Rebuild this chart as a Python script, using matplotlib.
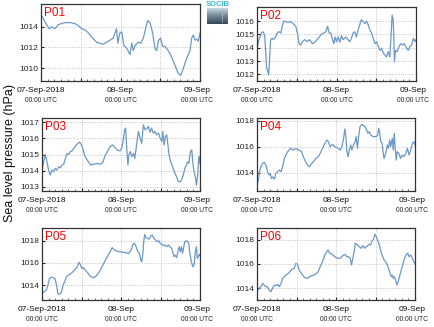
import numpy as np
import matplotlib
matplotlib.use("Agg")
import matplotlib.pyplot as plt
from matplotlib.colors import LinearSegmentedColormap

plt.rcParams['font.family'] = ['Liberation Sans', 'DejaVu Sans']

# time in hours since 07-Sep-2018 00:00 UTC, pressure in hPa
p01_t = [0, 0.7, 1.7, 2.5, 3.2, 4.2, 5.2, 6.2, 7.2, 8.8, 10.3, 11.3, 12.3, 13.3, 14.3,
         15.3, 16.8, 17.8, 18.8, 19.8, 20.8, 21.8, 22.8, 23.2, 23.8, 24.4, 25.0, 25.9, 26.9, 27.4,
         27.9, 28.4, 29.4, 30.1, 30.9, 31.7, 32.2, 32.9, 33.7, 34.4, 34.9, 35.5, 36.1, 36.7, 37.4,
         38.4, 39.4, 40.4, 41.4, 42.2, 42.8, 43.5, 44.2, 45.0, 45.5, 46.0, 46.5, 47.0, 47.5, 48.0]
p01_p = [1015.1, 1014.8, 1014.2, 1013.8, 1014.0, 1013.8, 1014.2, 1014.3, 1014.4, 1014.4, 1014.3, 1014.1, 1013.8, 1013.7, 1013.4,
         1013.0, 1012.5, 1012.4, 1012.3, 1012.5, 1012.7, 1012.9, 1013.8, 1012.4, 1013.4, 1013.5, 1012.2, 1011.9, 1011.3, 1012.4,
         1011.7, 1012.2, 1012.5, 1012.4, 1012.9, 1014.0, 1014.6, 1014.4, 1013.4, 1011.9, 1011.7, 1012.7, 1012.9, 1012.1, 1012.1,
         1011.7, 1011.1, 1010.3, 1009.5, 1009.3, 1009.8, 1010.5, 1011.1, 1011.7, 1012.9, 1013.2, 1012.7, 1012.8, 1012.6, 1013.4]

p02_t = [0, 0.6, 1.3, 1.8, 2.3, 2.6, 2.9, 3.2, 3.5, 3.8, 4.1, 4.6, 5.0, 5.6, 6.1,
         6.6, 7.2, 7.7, 8.1, 8.7, 9.4, 10.1, 10.9, 11.7, 12.2, 12.7, 13.2, 13.7, 14.4, 15.1,
         15.9, 16.7, 17.4, 18.1, 18.8, 19.4, 20.2, 20.8, 21.3, 21.8, 22.3, 22.8, 23.2, 23.6, 24.0,
         24.5, 25.0, 25.5, 26.0, 26.8, 27.5, 28.0, 28.5, 29.0, 29.5, 30.0, 30.5, 31.0, 31.5, 32.1,
         32.6, 33.1, 33.6, 34.1, 34.6, 35.1, 35.6, 36.1, 36.6, 37.1, 37.6, 38.1, 38.6, 39.1, 39.6,
         40.1, 40.5, 40.8, 41.1, 41.3, 41.5, 41.8, 42.3, 42.9, 43.4, 43.9, 44.4, 45.2, 45.7, 46.2,
         46.7, 47.2, 47.7, 48.0]
p02_p = [1013.95, 1014.6, 1015.1, 1015.2, 1014.95, 1013.8, 1012.45, 1012.3, 1011.95, 1013.1, 1014.6, 1014.7, 1014.6, 1014.8, 1015.1,
         1015.2, 1015.1, 1015.7, 1016.0, 1015.95, 1015.9, 1015.95, 1015.8, 1015.6, 1015.1, 1014.3, 1014.2, 1014.45, 1014.6, 1014.45,
         1014.6, 1014.3, 1014.4, 1014.6, 1014.8, 1015.0, 1015.1, 1015.2, 1015.6, 1015.1, 1015.1, 1014.6, 1014.3, 1014.8, 1014.45,
         1014.8, 1014.4, 1014.9, 1014.6, 1014.8, 1014.6, 1014.45, 1014.7, 1015.1, 1015.2, 1014.8, 1015.3, 1015.7, 1016.1, 1015.95,
         1015.8, 1016.0, 1015.7, 1015.3, 1015.1, 1014.7, 1014.3, 1014.45, 1014.1, 1013.8, 1013.95, 1013.6, 1013.45, 1013.3, 1013.7,
         1013.3, 1015.1, 1016.45, 1016.1, 1014.8, 1012.95, 1013.8, 1013.7, 1014.1, 1014.3, 1014.2, 1014.3, 1013.95, 1013.8, 1014.1,
         1014.2, 1014.7, 1014.45, 1014.6]

p03_t = [0, 0.5, 1.0, 1.5, 2.0, 2.5, 3.0, 3.5, 4.0, 4.5, 5.1, 5.6, 6.1, 6.6, 7.1,
         7.6, 8.1, 8.6, 9.1, 9.8, 10.6, 11.4, 11.9, 12.4, 12.9, 13.4, 14.1, 14.8, 15.7, 16.7,
         17.7, 18.5, 19.2, 19.9, 20.7, 21.5, 22.2, 22.9, 23.7, 24.2, 24.7, 25.1, 25.4, 25.8, 26.1,
         26.4, 26.8, 27.3, 27.8, 28.2, 28.6, 29.0, 29.3, 29.8, 30.3, 30.8, 31.3, 31.8, 32.3, 32.8,
         33.3, 33.8, 34.3, 34.8, 35.4, 35.9, 36.4, 36.7, 37.1, 37.5, 37.9, 38.2, 38.6, 39.1, 39.7,
         40.2, 40.9, 41.4, 41.9, 42.4, 42.9, 43.4, 43.9, 44.2, 44.6, 45.1, 45.5, 45.8, 46.2, 46.6,
         46.9, 47.3, 47.6, 47.8, 48.0]
p03_p = [1014.04, 1014.55, 1015.0, 1014.55, 1014.04, 1013.73, 1014.04, 1013.93, 1014.14, 1014.04, 1014.25, 1014.18, 1014.35, 1014.4, 1014.76,
         1015.07, 1015.0, 1015.18, 1015.22, 1015.42, 1015.63, 1015.76, 1015.63, 1015.38, 1014.97, 1014.76, 1014.55, 1014.35, 1014.4, 1014.45,
         1014.4, 1014.51, 1014.97, 1015.18, 1015.49, 1015.59, 1015.42, 1015.28, 1015.22, 1015.38, 1015.9, 1016.52, 1016.63, 1015.18, 1014.35,
         1014.97, 1015.18, 1014.87, 1015.07, 1014.76, 1015.38, 1016.0, 1016.42, 1016.0, 1015.69, 1016.83, 1016.52, 1016.59, 1016.73, 1016.38,
         1016.63, 1016.32, 1016.42, 1016.21, 1016.32, 1016.0, 1015.8, 1016.42, 1015.59, 1016.11, 1016.21, 1015.69, 1014.97, 1014.55, 1014.24,
         1013.93, 1013.62, 1013.35, 1013.31, 1013.41, 1013.73, 1014.14, 1014.35, 1014.55, 1014.45, 1015.18, 1015.28, 1014.55, 1013.93, 1013.62,
         1013.1, 1013.73, 1014.76, 1014.87, 1014.45]

p04_t = [0, 0.4, 0.8, 1.2, 1.7, 2.2, 2.7, 3.2, 3.7, 4.0, 4.4, 4.8, 5.3, 5.7, 6.3,
         6.8, 7.3, 7.8, 8.3, 8.8, 9.3, 9.8, 10.3, 10.8, 11.3, 12.1, 12.8, 13.5, 14.1, 14.7,
         15.4, 15.9, 16.4, 17.1, 17.9, 18.6, 19.2, 19.9, 20.6, 21.2, 21.7, 22.2, 22.9, 23.6, 24.4,
         25.3, 25.8, 26.3, 26.7, 27.0, 27.3, 27.7, 28.0, 28.5, 28.8, 29.3, 29.8, 30.1, 30.5, 30.8,
         31.3, 31.8, 32.3, 32.8, 33.3, 33.7, 34.1, 34.7, 35.4, 36.1, 36.6, 37.0, 37.3, 37.6, 38.0,
         38.3, 38.6, 39.1, 39.6, 39.9, 40.3, 40.6, 41.1, 41.4, 41.7, 42.0, 42.3, 42.6, 43.1, 43.6,
         44.1, 44.6, 45.2, 45.7, 46.2, 46.7, 47.2, 47.7, 48.0]
p04_p = [1013.05, 1013.44, 1014.08, 1014.46, 1014.72, 1014.79, 1014.59, 1014.08, 1013.82, 1013.95, 1013.56, 1013.69, 1013.51, 1013.95, 1014.08,
         1014.21, 1014.08, 1014.46, 1015.1, 1015.36, 1015.62, 1015.74, 1015.87, 1015.74, 1015.82, 1015.82, 1015.74, 1015.62, 1015.23, 1014.85,
         1014.59, 1014.46, 1014.64, 1014.85, 1015.1, 1015.23, 1015.49, 1015.87, 1016.26, 1016.51, 1016.38, 1016.0, 1016.18, 1016.0, 1015.92,
         1015.74, 1016.0, 1016.64, 1017.36, 1016.77, 1015.62, 1015.23, 1015.74, 1016.13, 1015.74, 1016.13, 1016.38, 1016.77, 1015.87, 1016.64,
         1017.54, 1017.72, 1017.62, 1017.54, 1017.28, 1017.03, 1017.15, 1016.85, 1016.77, 1016.77, 1016.85, 1017.41, 1017.03, 1016.38, 1016.26,
         1015.62, 1015.1, 1015.49, 1016.13, 1015.87, 1016.51, 1016.0, 1016.64, 1015.74, 1017.03, 1015.87, 1014.97, 1015.62, 1015.49, 1015.1,
         1015.36, 1015.23, 1015.49, 1015.87, 1015.36, 1015.74, 1016.26, 1016.38, 1016.13]

p05_t = [0, 0.7, 1.3, 1.8, 2.3, 2.8, 3.5, 4.0, 4.5, 4.8, 5.4, 5.9, 6.4, 6.9, 7.4,
         8.1, 8.8, 9.4, 10.1, 10.6, 11.2, 11.6, 12.1, 12.6, 13.1, 13.8, 14.6, 15.5, 16.2, 16.9,
         17.7, 18.5, 19.3, 20.1, 20.7, 21.3, 21.7, 22.5, 23.7, 24.9, 26.3, 27.1, 27.6, 28.1, 28.6,
         29.1, 29.6, 30.0, 30.3, 30.6, 30.9, 31.2, 31.6, 32.1, 32.6, 33.1, 33.5, 34.0, 34.5, 35.1,
         35.5, 35.9, 36.4, 36.9, 37.4, 37.9, 38.4, 38.9, 39.4, 39.7, 40.1, 40.5, 40.9, 41.4, 41.7,
         42.0, 42.4, 42.7, 43.0, 43.3, 43.7, 44.2, 44.6, 44.9, 45.4, 45.8, 46.2, 46.6, 46.9, 47.2,
         47.5, 47.8, 48.0]
p05_p = [1013.25, 1013.4, 1013.55, 1014.0, 1014.6, 1014.7, 1014.66, 1014.54, 1013.85, 1013.25, 1013.16, 1013.34, 1014.0, 1014.3, 1014.75,
         1014.9, 1015.05, 1015.2, 1015.44, 1015.56, 1016.05, 1015.86, 1015.5, 1015.56, 1015.35, 1015.14, 1014.81, 1014.66, 1014.75, 1014.96,
         1015.35, 1015.8, 1016.26, 1016.71, 1017.0, 1017.37, 1017.25, 1017.07, 1017.0, 1016.95, 1016.86, 1017.16, 1017.67, 1017.76, 1017.46,
         1017.0, 1016.86, 1016.26, 1016.1, 1016.71, 1017.91, 1018.57, 1018.27, 1018.21, 1018.15, 1018.45, 1018.51, 1018.21, 1018.06, 1017.91,
         1018.0, 1017.76, 1017.67, 1017.55, 1017.61, 1017.46, 1017.61, 1017.46, 1017.31, 1017.0, 1016.56, 1016.71, 1016.47, 1017.16, 1017.46,
         1017.0, 1017.46, 1016.86, 1017.31, 1017.85, 1017.97, 1017.97, 1017.76, 1016.86, 1016.1, 1015.65, 1015.8, 1017.0, 1017.46, 1016.41,
         1016.56, 1016.77, 1016.71]

p06_t = [0, 0.7, 1.2, 1.7, 2.2, 2.7, 3.2, 3.7, 4.2, 4.7, 5.3, 5.8, 6.3, 6.8, 7.3,
         7.8, 8.3, 8.8, 9.5, 10.1, 10.8, 11.3, 11.8, 12.3, 12.8, 13.3, 13.8, 14.5, 15.4, 15.9,
         16.6, 17.4, 18.1, 18.6, 19.2, 19.9, 20.6, 21.2, 21.6, 22.1, 22.9, 23.6, 24.4, 25.3, 26.0,
         26.7, 27.3, 27.8, 28.3, 28.7, 29.1, 29.5, 29.9, 30.5, 31.1, 31.7, 32.2, 32.7, 33.2, 33.7,
         34.1, 34.5, 34.9, 35.4, 35.8, 36.2, 36.6, 37.0, 37.4, 37.8, 38.2, 38.6, 39.1, 39.6, 40.1,
         40.4, 40.8, 41.1, 41.4, 41.7, 42.1, 42.5, 42.9, 43.3, 43.8, 44.3, 44.8, 45.4, 45.8, 46.2,
         46.7, 47.2, 47.7, 48.0]
p06_p = [1013.73, 1014.05, 1014.14, 1014.41, 1014.27, 1014.14, 1014.14, 1013.86, 1013.73, 1014.0, 1014.27, 1014.22, 1014.33, 1014.14, 1014.41,
         1014.82, 1014.96, 1015.1, 1015.23, 1015.42, 1015.59, 1015.64, 1016.05, 1015.97, 1015.51, 1015.32, 1015.1, 1014.88, 1014.82, 1014.96,
         1015.04, 1015.1, 1015.23, 1015.37, 1015.78, 1016.19, 1016.74, 1017.01, 1017.15, 1016.88, 1016.79, 1016.6, 1016.47, 1016.47, 1016.68,
         1016.79, 1016.6, 1016.6, 1016.47, 1015.92, 1016.47, 1017.01, 1017.7, 1017.56, 1017.42, 1017.29, 1017.51, 1017.29, 1017.42, 1017.51,
         1017.62, 1017.56, 1017.84, 1018.05, 1018.44, 1018.25, 1017.97, 1017.7, 1017.29, 1016.88, 1016.6, 1016.33, 1016.19, 1015.92, 1015.51,
         1015.23, 1014.96, 1015.1, 1014.82, 1014.96, 1014.68, 1014.27, 1014.55, 1014.96, 1015.51, 1015.92, 1016.47, 1016.79, 1016.88, 1016.6,
         1016.74, 1016.47, 1016.14, 1016.05]

stations = ['P01', 'P02', 'P03', 'P04', 'P05', 'P06']
times = [p01_t, p02_t, p03_t, p04_t, p05_t, p06_t]
pressures = [p01_p, p02_p, p03_p, p04_p, p05_p, p06_p]

day_ticks = [0, 24, 48]
day_labels = ['07-Sep-2018', '08-Sep', '09-Sep']

ylims = [(1008.75, 1016.2), (1011.5, 1017.05), (1012.75, 1017.25),
         (1012.6, 1018.2), (1012.65, 1019.15), (1013.05, 1018.95)]
yticks = [[1010, 1012, 1014], [1012, 1013, 1014, 1015, 1016], [1013, 1014, 1015, 1016, 1017],
          [1014, 1016, 1018], [1014, 1016, 1018], [1014, 1016, 1018]]

# axes boxes in pixels: left, top, right, bottom
boxes = [(41, 4, 200, 81), (257, 7, 416, 81),
         (42, 118, 200, 191), (257, 118, 415, 191),
         (42, 228, 200, 300), (257, 228, 415, 300)]

W, H = 434, 327
fig = plt.figure(figsize=(W / 100, H / 100), dpi=100)

for i in range(6):
    l, t, r, b = boxes[i]
    ax = fig.add_axes([l / W, 1 - b / H, (r - l) / W, (b - t) / H])
    ax.plot(times[i], pressures[i], color='#6b98c8', lw=0.9)
    ax.set_xlim(0, 48)
    ax.set_ylim(*ylims[i])
    ax.set_xticks([0, 12, 24, 36, 48])
    ax.set_xticks(np.arange(0, 49, 2), minor=True)
    ax.set_xticklabels([])
    ax.set_yticks(yticks[i])
    ax.grid(True, ls=':', color='#b5b5b5', lw=0.6)
    ax.tick_params(direction='in', length=2, labelsize=6, pad=2, colors='#222222')
    ax.tick_params(axis='x', which='minor', direction='in', length=1.2, colors='#555555')
    for s in ax.spines.values():
        s.set_linewidth(0.9)
        s.set_color('#333333')
    for x, lab in zip(day_ticks, day_labels):
        dx = -2 if x == 48 else 0
        ax.annotate(lab, xy=(x, 0), xycoords=('data', 'axes fraction'),
                    xytext=(dx, -4), textcoords='offset points',
                    ha='center', va='top', fontsize=6, color='#111111',
                    annotation_clip=False)
        ax.annotate('00:00 UTC', xy=(x, 0), xycoords=('data', 'axes fraction'),
                    xytext=(dx, -11.5), textcoords='offset points',
                    ha='center', va='top', fontsize=4.8, color='#222222',
                    annotation_clip=False)
    ax.annotate(stations[i], xy=(0, 1), xycoords='axes fraction',
                xytext=(2, -2.5), textcoords='offset points',
                ha='left', va='top', fontsize=8.5, color='red')

fig.text(0.023, 0.531, 'Sea level pressure (hPa)', rotation=90,
         ha='center', va='center', fontsize=9, color='#111111')

# SOCIB logo
lax = fig.add_axes([207 / W, 1 - 24 / H, 21 / W, 16 / H])
grad = np.linspace(0, 1, 32).reshape(-1, 1)
cm = LinearSegmentedColormap.from_list('logo', ['#c9d6de', '#6f8593', '#34495a'])
lax.imshow(grad, aspect='auto', cmap=cm, extent=(0, 1, 0, 1), origin='upper')
lax.plot([0.72, 0.72], [0.15, 0.7], color='white', lw=0.6, ls=(0, (1, 1.5)))
lax.set_xlim(0, 1)
lax.set_ylim(0, 1)
lax.axis('off')
fig.text(217.5 / W, 1 - 5 / H, 'SOCIB', ha='center', va='center',
         fontsize=5.5, color='#3bbcd4', fontweight='bold')

fig.savefig('out.png', dpi=100)
